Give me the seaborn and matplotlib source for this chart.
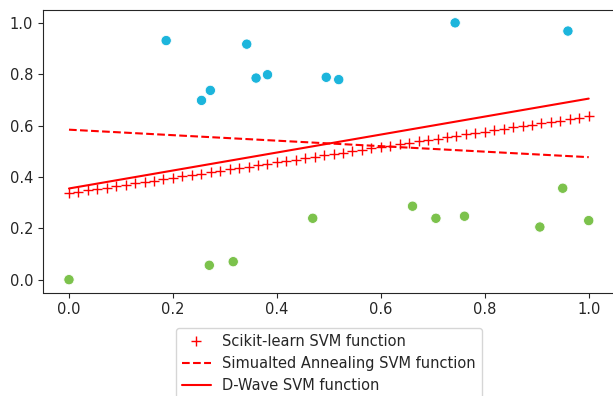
import numpy as np
import pandas as pd
import matplotlib
matplotlib.use("Agg")
import matplotlib.pyplot as plt
import seaborn as sns

# class +1 points (cyan)
pos_x = [0.187, 0.255, 0.272, 0.342, 0.360, 0.382, 0.495, 0.519, 0.743, 0.960]
pos_y = [0.931, 0.698, 0.737, 0.917, 0.785, 0.798, 0.788, 0.779, 1.000, 0.968]
# class -1 points (green)
neg_x = [0.000, 0.270, 0.316, 0.469, 0.661, 0.706, 0.761, 0.906, 0.950, 1.000]
neg_y = [0.000, 0.056, 0.070, 0.239, 0.286, 0.239, 0.247, 0.205, 0.356, 0.230]

# decision functions: (y at x=0, y at x=1)
sklearn_line = [0.337, 0.636]
sa_line = [0.584, 0.477]
dwave_line = [0.355, 0.705]
n_line_points = 56

labels = ["Scikit-learn SVM function", "Simualted Annealing SVM function", "D-Wave SVM function"]

sns.set_style("ticks")
plt.rcParams["font.size"] = 10.5
plt.rcParams["xtick.labelsize"] = 10.5
plt.rcParams["ytick.labelsize"] = 10.5
fig = plt.figure(figsize=(6.13, 3.96), dpi=100)
ax = fig.add_axes([43 / 613, 1 - 292.5 / 396, (614.7 - 43) / 613, 282.5 / 396])

df = pd.DataFrame({
    "x": pos_x + neg_x,
    "y": pos_y + neg_y,
    "cls": ["pos"] * len(pos_x) + ["neg"] * len(neg_x),
})
sns.scatterplot(data=df, x="x", y="y", hue="cls",
                palette={"pos": "#1cb5dc", "neg": "#7cc24c"},
                s=55, ax=ax, legend=False)

xs = np.linspace(0, 1, n_line_points)
def line(ends, x):
    return ends[0] + (ends[1] - ends[0]) * x

ax.plot(xs, line(sklearn_line, xs), "+", color="red", markersize=6.5, label=labels[0])
x2 = np.array([0.0, 1.0])
ax.plot(x2, line(sa_line, x2), "--", color="red", label=labels[1])
ax.plot(x2, line(dwave_line, x2), "-", color="red", label=labels[2])

ax.set_xlim(-0.05, 1.05)
ax.set_ylim(-0.05, 1.05)
ax.set_xticks([0, 0.2, 0.4, 0.6, 0.8, 1.0])
ax.set_yticks([0, 0.2, 0.4, 0.6, 0.8, 1.0])
ax.set_xlabel("")
ax.set_ylabel("")
for s in ax.spines.values():
    s.set_visible(True)
ax.legend(loc="upper center", bbox_to_anchor=(0.5, -0.1), fontsize=10.5)

fig.savefig("out.png", dpi=100)
